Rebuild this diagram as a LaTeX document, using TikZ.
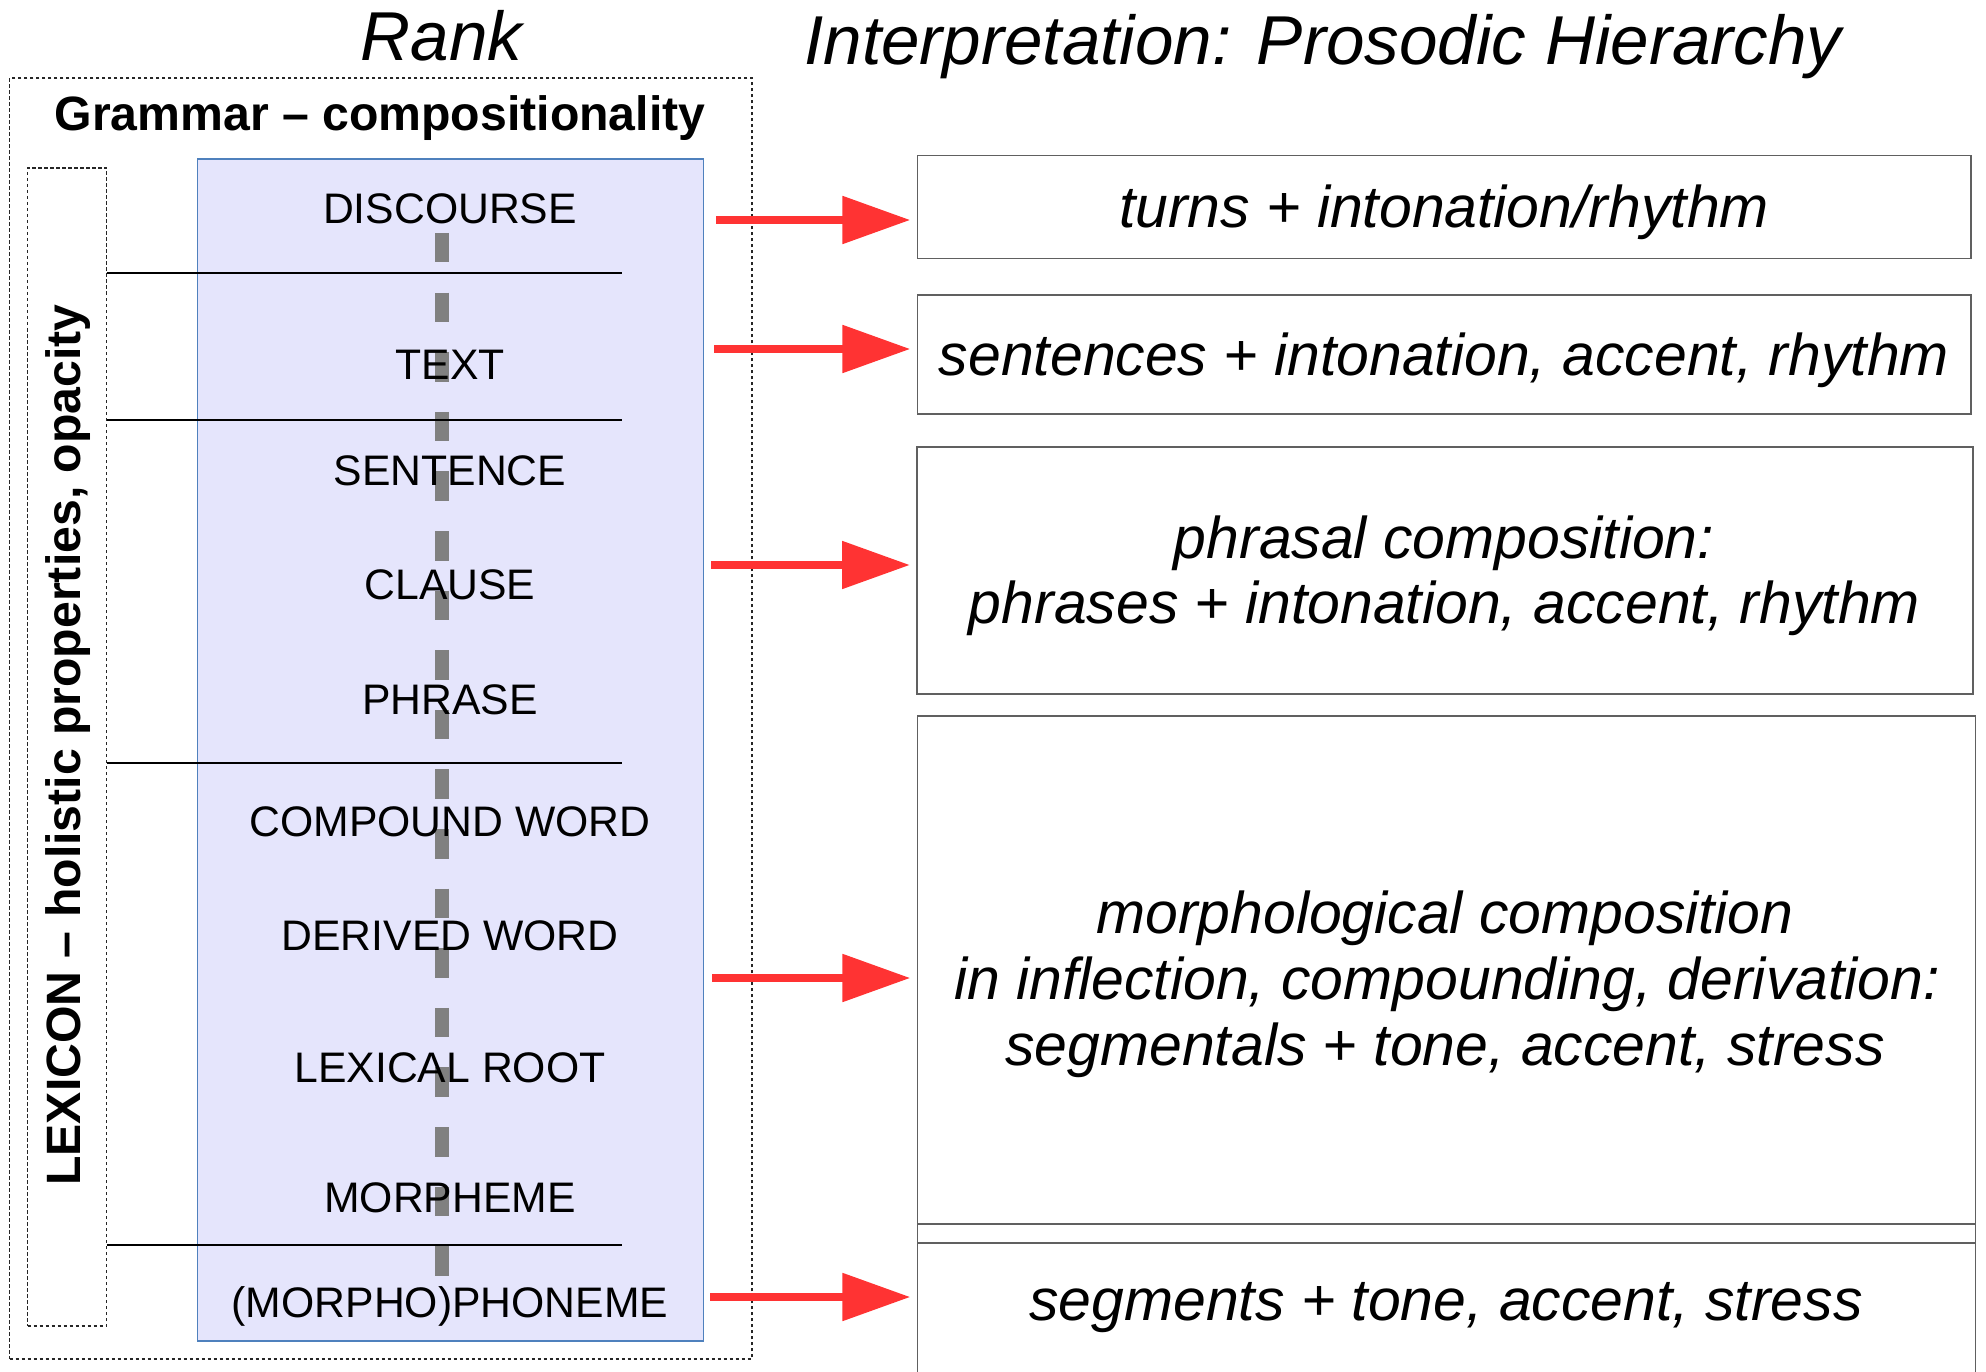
\documentclass[tikz,border=0pt]{standalone}
\usepackage{fontspec}
\setmainfont{Liberation Sans}
\usetikzlibrary{arrows.meta}
\definecolor{rankfill}{RGB}{229,229,252}
\definecolor{rankline}{RGB}{79,129,189}
\definecolor{arrowred}{RGB}{255,51,51}
\definecolor{spinegray}{RGB}{128,128,128}
\definecolor{boxline}{RGB}{96,96,96}

\begin{document}
\begin{tikzpicture}[x=1pt,y=-1pt,
  frame/.style={draw=black!85, line width=1.3pt, dash pattern=on 3.5pt off 2.5pt,
    minimum width=#1, inner sep=0pt, outer sep=0pt},
  rankbox/.style={draw=rankline, fill=rankfill, line width=1.4pt, inner sep=0pt, outer sep=0pt},
  level/.style={font=\fontsize{42.7}{50}\selectfont, anchor=base, inner sep=0pt},
  sepline/.style={draw=black, line width=1.4pt},
  pbox/.style={draw=boxline, line width=1.6pt, inner sep=0pt, outer sep=0pt},
  ptext/.style={font=\fontsize{58.9}{66}\selectfont\itshape, anchor=base, inner sep=0pt},
  title/.style={font=\fontsize{69.2}{80}\selectfont\itshape, anchor=base, inner sep=0pt},
  heading/.style={font=\fontsize{48.2}{56}\selectfont\bfseries, anchor=base, inner sep=0pt},
  link/.style={draw=arrowred, line width=8.5pt,
    -{Triangle[length=68pt,width=46pt]}, shorten >=7pt},
  spine/.style={draw=spinegray, line width=14.5pt, dash pattern=on 29.5pt off 30.1pt},
]
\useasboundingbox (0,0) rectangle (1986,1372);
\clip (0,0) rectangle (1986,1372);

% titles
\node[title] (hRank) at (441.7,60.7) {Rank};
\node[title] (hInterp) at (1323,65) {Interpretation: Prosodic Hierarchy};

% grammar frame and lexicon strip
\node[frame=742.3pt, minimum height=1281pt] (outer) at (380.85,718.5) {};
\node[heading] (hGram) at (380,131) {Grammar -- compositionality};
\node[frame=79pt, minimum height=1158pt] (lex) at (67,747) {};
\node[heading, rotate=90] (hLex) at (80,745) {LEXICON -- holistic properties, opacity};

% rank scale
\node[rankbox, minimum width=506pt, minimum height=1182pt] (rank) at (450.5,750) {};
\draw[spine] (442,233) -- (442,1276);

% boundaries between grammar and lexicon zones
\coordinate (c1) at (622,273);
\coordinate (c2) at (622,420);
\coordinate (c3) at (622,763);
\coordinate (c4) at (622,1245);
\foreach \c in {c1,c2,c3,c4}
  \draw[sepline] (lex.east |- \c) -- (\c);

% rank levels
\node[level] (r1) at (450,224) {DISCOURSE};
\node[level] (r2) at (450,379) {TEXT};
\node[level] (r3) at (450,485) {SENTENCE};
\node[level] (r4) at (450,599) {CLAUSE};
\node[level] (r5) at (450,714) {PHRASE};
\node[level] (r6) at (450,836) {COMPOUND WORD};
\node[level] (r7) at (450,950) {DERIVED WORD};
\node[level] (r8) at (450,1082) {LEXICAL ROOT};
\node[level] (r9) at (450,1212) {MORPHEME};
\node[level] (r10) at (450,1317) {(MORPHO)PHONEME};

% prosodic interpretation boxes
\node[pbox, minimum width=1053.6pt, minimum height=103pt] (p1) at (1444.2,207.2) {};
\node[pbox, minimum width=1053.6pt, minimum height=118.7pt] (p2) at (1444.2,354.35) {};
\node[pbox, minimum width=1056pt, minimum height=247.3pt] (p3) at (1445,570.35) {};
\node[pbox, minimum width=1058.1pt, minimum height=527pt] (p4) at (1446.45,979.5) {};
\node[pbox, minimum width=1058.1pt, minimum height=176pt] (p5) at (1446.45,1312) {};

\node[ptext] (t1) at (1444,228) {turns + intonation/rhythm};
\node[ptext] (t2) at (1444,375) {sentences + intonation, accent, rhythm};
\node[ptext] (t3a) at (1444,558) {phrasal composition:};
\node[ptext] (t3b) at (1444.5,623) {phrases + intonation, accent, rhythm};
\node[ptext] (t4a) at (1445,933) {morphological composition};
\node[ptext] (t4b) at (1447,999) {in inflection, compounding, derivation:};
\node[ptext] (t4c) at (1445,1065) {segmentals + tone, accent, stress};
\node[ptext] (t5) at (1446,1320) {segments + tone, accent, stress};

% mappings from rank to prosody
\coordinate (s1) at (716,220);
\coordinate (s2) at (714,349);
\coordinate (s3) at (711,565);
\coordinate (s4) at (712,978);
\coordinate (s5) at (710,1297);
\draw[link] (s1) -- (p1.west |- s1);
\draw[link] (s2) -- (p2.west |- s2);
\draw[link] (s3) -- (p3.west |- s3);
\draw[link] (s4) -- (p4.west |- s4);
\draw[link] (s5) -- (p5.west |- s5);
\end{tikzpicture}
\end{document}
